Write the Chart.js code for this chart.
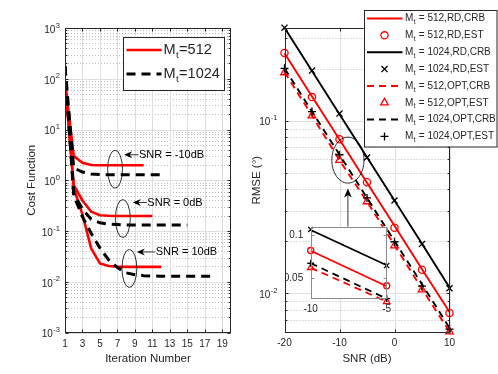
<!DOCTYPE html>
<html><head><meta charset="utf-8">
<script src="https://cdn.jsdelivr.net/npm/chart.js@4.4.1/dist/chart.umd.min.js"></script>
<style>
html,body{margin:0;padding:0;background:#fff;}
#wrap{position:relative;width:498px;height:374px;overflow:hidden;background:#fff;}
canvas{position:absolute;}
</style></head><body>
<div id="wrap">
<canvas id="left" width="249" height="374" style="left:0;top:0"></canvas>
<canvas id="right" width="249" height="374" style="left:249px;top:0"></canvas>
<canvas id="inset" width="110" height="100" style="left:285px;top:218px"></canvas>
</div>
<script>
// ================= DATA =================
// Left panel: cost function vs iteration number
const iterations = [1,2,3,4,5,6,7,8,9,10,11,12,13,14,15,16,17,18];
const cost512_snrM10  = [89, 3.0, 2.2, 2.0, 1.98, 1.97, 1.97, 1.97, 1.97, 1.97];
const cost512_snr0    = [89, 0.8, 0.4, 0.24, 0.205, 0.2, 0.198, 0.198, 0.198, 0.198, 0.198];
const cost512_snr10   = [89, 0.7, 0.21, 0.045, 0.023, 0.0205, 0.0198, 0.0196, 0.0196, 0.0196, 0.0196, 0.0196];
const cost1024_snrM10 = [175, 1.75, 1.45, 1.33, 1.29, 1.28, 1.28, 1.28, 1.28, 1.28, 1.28, 1.28];
const cost1024_snr0   = [175, 0.55, 0.27, 0.17, 0.145, 0.137, 0.134, 0.132, 0.132, 0.132, 0.132, 0.132, 0.132, 0.132, 0.132];
const cost1024_snr10  = [175, 0.5, 0.19, 0.09, 0.046, 0.027, 0.019, 0.015, 0.0138, 0.0132, 0.013, 0.0128, 0.0128, 0.0128, 0.0128, 0.0128, 0.0128, 0.0128];
const leftXTicks = [1,3,5,7,9,11,13,15,17,19];
const leftYTickExps = [-3,-2,-1,0,1,2,3];
const leftLegendLabels = ['=512', '=1024'];
// SNR annotations (iteration / cost coordinates)
const snrNoteTexts   = ['SNR = -10dB', 'SNR = 0dB', 'SNR = 10dB'];
const snrEllipseX    = [6.73, 7.62, 8.37];
const snrEllipseY    = [1.65, 0.176, 0.0183];
const snrArrowTailX  = [9.41, 10.37, 11.32];
const snrArrowTipX   = [7.77, 8.76, 9.22];
const snrArrowY      = [3.18, 0.364, 0.0386];

// Right panel: RMSE vs SNR
const snrDb = [-20, -15, -10, -5, 0, 5, 10];
const rmse512RdCrb   = [0.246, 0.138, 0.0778, 0.0437, 0.0246, 0.0138, 0.0078];
const rmse512RdEst   = [0.247, 0.137, 0.078, 0.044, 0.0240, 0.0137, 0.0077];
const rmse1024RdCrb  = [0.345, 0.194, 0.109, 0.0614, 0.0345, 0.0194, 0.0108];
const rmse1024RdEst  = [0.346, 0.195, 0.110, 0.0612, 0.0345, 0.0193, 0.0107];
const rmse512OptCrb  = [0.191, 0.107, 0.059, 0.0340, 0.0190, 0.0106, 0.0060];
const rmse512OptEst  = [0.190, 0.107, 0.059, 0.0340, 0.0189, 0.0105, 0.0060];
const rmse1024OptCrb = [0.201, 0.113, 0.0635, 0.0357, 0.0201, 0.0113, 0.0063];
const rmse1024OptEst = [0.201, 0.113, 0.0635, 0.0357, 0.0199, 0.0110, 0.0062];
const rightXTicks = [-20, -10, 0, 10];
const rightYTickExps = [-2, -1];
const rightLegendLabels = [' = 512,RD,CRB',' = 512,RD,EST',' = 1024,RD,CRB',' = 1024,RD,EST',' = 512,OPT,CRB',' = 512,OPT,EST',' = 1024,OPT,CRB',' = 1024,OPT,EST'];
const zoomEllipseCenter = {x: -8.47, y: 0.0591};
const zoomArrowTailY = 0.0243, zoomArrowTipY = 0.0405;
// Inset
const insetXTicks = [-10, -5];
const insetYTicks = [0.05, 0.1];
const insetYTickLabels = ['0.05', '0.1'];

// ================= STYLE =================
const FONT = '"Liberation Sans", Arial, Helvetica, sans-serif';
const AX = '#262626';
const GRID_MAJOR = '#dedede';
const GRID_MINOR = '#bdbdbd';
const RED = '#ff0000', BLACK = '#000000';

const pts = (xs, ys) => ys.map((y, i) => ({x: xs[i], y}));
const c = v => Math.round(v) + 0.5;

function logGrid(min, max) {
  const out = [];
  for (let e = Math.floor(Math.log10(min)); e <= Math.ceil(Math.log10(max)); e++) {
    for (let m = 1; m < 10; m++) {
      const v = m * Math.pow(10, e);
      if (v >= min * 0.9999 && v <= max * 1.0001) out.push({v, major: m === 1});
    }
  }
  return out;
}
function hline(ctx, x1, x2, y) { ctx.beginPath(); ctx.moveTo(x1, y); ctx.lineTo(x2, y); ctx.stroke(); }
function vline(ctx, x, y1, y2) { ctx.beginPath(); ctx.moveTo(x, y1); ctx.lineTo(x, y2); ctx.stroke(); }

function drawGrid(chart, xTicks) {
  const {ctx, chartArea: a, scales: {x, y}} = chart;
  ctx.save();
  ctx.lineWidth = 1;
  logGrid(y.min, y.max).forEach(({v, major}) => {
    const py = c(y.getPixelForValue(v));
    if (major) { ctx.setLineDash([]); ctx.strokeStyle = GRID_MAJOR; }
    else { ctx.setLineDash([1, 2]); ctx.strokeStyle = GRID_MINOR; }
    hline(ctx, a.left, a.right, py);
  });
  ctx.setLineDash([]); ctx.strokeStyle = GRID_MAJOR;
  xTicks.forEach(v => vline(ctx, c(x.getPixelForValue(v)), a.top, a.bottom));
  ctx.restore();
}

function drawFrame(chart, xTicks, color, logMinor) {
  const {ctx, chartArea: a, scales: {x, y}} = chart;
  ctx.save();
  ctx.strokeStyle = color; ctx.lineWidth = 1; ctx.setLineDash([]);
  const L = c(a.left), R = c(a.right) - 1, T = c(a.top), B = c(a.bottom) - 1;
  ctx.strokeRect(L, T, R - L, B - T);
  xTicks.forEach(v => { const px = c(x.getPixelForValue(v)); vline(ctx, px, B, B - 3); vline(ctx, px, T, T + 3); });
  if (logMinor) {
    logGrid(y.min, y.max).forEach(({v, major}) => {
      const py = c(y.getPixelForValue(v)); const len = major ? 3 : 1.8;
      hline(ctx, L, L + len, py); hline(ctx, R, R - len, py);
    });
  }
  ctx.restore();
}

function drawPow(ctx, exp, xRight, yc) {
  ctx.save();
  ctx.fillStyle = AX; ctx.textBaseline = 'middle'; ctx.textAlign = 'left';
  ctx.font = '10px ' + FONT; const wb = ctx.measureText('10').width;
  ctx.font = '7.5px ' + FONT; const es = String(exp); const we = ctx.measureText(es).width;
  const x0 = xRight - wb - we - 0.5;
  ctx.font = '10px ' + FONT; ctx.fillText('10', x0, yc + 2);
  ctx.font = '7.5px ' + FONT; ctx.fillText(es, x0 + wb + 0.5, yc - 2.5);
  ctx.restore();
}
function drawXLabels(chart, ticks, labels, dy) {
  const {ctx, chartArea: a, scales: {x}} = chart;
  ctx.save(); ctx.fillStyle = AX; ctx.font = '10px ' + FONT; ctx.textAlign = 'center'; ctx.textBaseline = 'middle';
  ticks.forEach((v, i) => ctx.fillText(labels ? labels[i] : String(v), x.getPixelForValue(v), a.bottom + dy));
  ctx.restore();
}
function drawTitles(chart, xt, yt, yx) {
  const {ctx, chartArea: a} = chart;
  ctx.save(); ctx.fillStyle = AX; ctx.font = '11.5px ' + FONT; ctx.textAlign = 'center'; ctx.textBaseline = 'middle';
  ctx.fillText(xt, (a.left + a.right) / 2, 359);
  ctx.translate(yx, (a.top + a.bottom) / 2); ctx.rotate(-Math.PI / 2); ctx.fillText(yt, 0, 0);
  ctx.restore();
}
function arrowHead(ctx, tx, ty, ux, uy, len, half, notch) {
  const bx = tx - ux * len, by = ty - uy * len, px = -uy, py = ux;
  ctx.beginPath(); ctx.moveTo(tx, ty);
  ctx.lineTo(bx + px * half, by + py * half);
  ctx.lineTo(tx - ux * (len - notch), ty - uy * (len - notch));
  ctx.lineTo(bx - px * half, by - py * half);
  ctx.closePath(); ctx.fill();
}
function drawMarker(ctx, style, x, y, r) {
  ctx.beginPath();
  if (style === 'circle') { ctx.arc(x, y, r, 0, Math.PI * 2); }
  else if (style === 'triangle') {
    for (let k = 0; k < 3; k++) { const ang = k * 2 * Math.PI / 3; const X = x + Math.sin(ang) * r, Y = y - Math.cos(ang) * r; k ? ctx.lineTo(X, Y) : ctx.moveTo(X, Y); }
    ctx.closePath();
  } else if (style === 'cross') { ctx.moveTo(x - r, y); ctx.lineTo(x + r, y); ctx.moveTo(x, y - r); ctx.lineTo(x, y + r); }
  else if (style === 'crossRot') { const d = r * 0.7071; ctx.moveTo(x - d, y - d); ctx.lineTo(x + d, y + d); ctx.moveTo(x - d, y + d); ctx.lineTo(x + d, y - d); }
  ctx.stroke();
}
function mtText(ctx, x, y, size, rest) {
  ctx.textAlign = 'left'; ctx.textBaseline = 'middle';
  ctx.font = size + 'px ' + FONT; ctx.fillText('M', x, y);
  const wm = ctx.measureText('M').width;
  const ss = size * 0.68;
  ctx.font = ss + 'px ' + FONT; ctx.fillText('t', x + wm + 0.3, y + size * 0.38);
  const wt = ctx.measureText('t').width;
  ctx.font = size + 'px ' + FONT; ctx.fillText(rest, x + wm + wt + 0.8, y);
}

// ================= LEFT CHART =================
const leftPlugin = {
  id: 'leftDecor',
  beforeDatasetsDraw(chart) { drawGrid(chart, leftXTicks); },
  afterDatasetsDraw(chart) {
    const {ctx, chartArea: a, scales: {x, y}} = chart;
    drawFrame(chart, leftXTicks, AX, true);
    drawXLabels(chart, leftXTicks, null, 11.5);
    leftYTickExps.forEach(e => drawPow(ctx, e, a.left - 5, y.getPixelForValue(Math.pow(10, e))));
    drawTitles(chart, 'Iteration Number', 'Cost Function', 32);
    // annotations
    ctx.save();
    ctx.strokeStyle = BLACK; ctx.fillStyle = BLACK; ctx.lineWidth = 0.8;
    const rx = x.getPixelForValue(1.85) - x.getPixelForValue(1);
    snrNoteTexts.forEach((t, i) => {
      const cx = x.getPixelForValue(snrEllipseX[i]), cy = y.getPixelForValue(snrEllipseY[i]);
      const ry = (y.getPixelForValue(snrEllipseY[i] / 2.37) - y.getPixelForValue(snrEllipseY[i] * 2.37)) / 2;
      ctx.beginPath(); ctx.ellipse(cx, cy, rx, ry, 0, 0, Math.PI * 2); ctx.stroke();
      const ay = y.getPixelForValue(snrArrowY[i]);
      const tx = x.getPixelForValue(snrArrowTailX[i]), hx = x.getPixelForValue(snrArrowTipX[i]);
      ctx.lineWidth = 0.8; hline(ctx, tx, hx + 4, ay);
      arrowHead(ctx, hx, ay, -1, 0, 8, 3.5, 2.5);
      ctx.font = '11px ' + FONT; ctx.textAlign = 'left'; ctx.textBaseline = 'middle';
      ctx.fillText(t, tx + 0.5, ay);
    });
    ctx.restore();
    // legend
    ctx.save();
    const lx = a.right - 108.5, ly = a.top + 8.5, lw = 101, lh = 53;
    ctx.fillStyle = '#fff'; ctx.fillRect(lx, ly, lw, lh);
    ctx.strokeStyle = AX; ctx.lineWidth = 1; ctx.strokeRect(c(lx), c(ly), lw, lh);
    [0, 1].forEach(i => {
      const ds = chart.data.datasets[i === 0 ? 0 : 3];
      const yy = ly + 13.5 + i * 24;
      ctx.strokeStyle = ds.borderColor; ctx.lineWidth = ds.borderWidth; ctx.setLineDash(ds.borderDash || []);
      hline(ctx, lx + 4, lx + 39, yy);
      ctx.setLineDash([]);
      ctx.fillStyle = AX; mtText(ctx, lx + 41, yy, 14.5, leftLegendLabels[i]);
    });
    ctx.restore();
  }
};

function lineDs(xs, ys, color, dash, w) {
  return {data: pts(xs, ys), borderColor: color, borderWidth: w, borderDash: dash, pointRadius: 0, showLine: true, fill: false, tension: 0};
}
const leftSets = [
  lineDs(iterations, cost512_snrM10, RED, [], 2.6),
  lineDs(iterations, cost512_snr0, RED, [], 2.6),
  lineDs(iterations, cost512_snr10, RED, [], 2.6),
  lineDs(iterations, cost1024_snrM10, BLACK, [9, 6], 3),
  lineDs(iterations, cost1024_snr0, BLACK, [9, 6], 3),
  lineDs(iterations, cost1024_snr10, BLACK, [9, 6], 3)
];
leftSets.forEach((d, i) => d.order = 100 - i);

new Chart(document.getElementById('left'), {
  type: 'line',
  data: {datasets: leftSets},
  options: {
    responsive: false, animation: false, devicePixelRatio: 1,
    layout: {padding: {left: 65, top: 28, right: 18, bottom: 41.5}},
    plugins: {legend: {display: false}, tooltip: {enabled: false}},
    scales: {
      x: {type: 'linear', min: 1, max: 20, display: false},
      y: {type: 'logarithmic', min: 1e-3, max: 1e3, display: false}
    }
  },
  plugins: [leftPlugin]
});

// ================= RIGHT CHART =================
function rmseSets(filterFn, small) {
  const f = ys => pts(snrDb, ys).filter(p => filterFn(p.x));
  const lw = small ? 1.8 : 1.9;
  const mk = (ys, color, style, r) => ({data: f(ys), borderColor: color, backgroundColor: 'rgba(0,0,0,0)', pointBackgroundColor: 'rgba(0,0,0,0)', pointBorderColor: color, pointStyle: style, pointRadius: r, pointBorderWidth: 1.3, showLine: false, clip: false});
  const ln = (ys, color, dash) => ({data: f(ys), borderColor: color, borderWidth: lw, borderDash: dash, pointRadius: 0, showLine: true, fill: false, tension: 0, clip: false});
  const s = small ? 0.85 : 1;
  const sets = [
    ln(rmse512RdCrb, RED, []),
    mk(rmse512RdEst, RED, 'circle', 3.6 * s),
    ln(rmse1024RdCrb, BLACK, []),
    mk(rmse1024RdEst, BLACK, 'crossRot', 4.3 * s),
    ln(rmse512OptCrb, RED, [7, 5]),
    mk(rmse512OptEst, RED, 'triangle', 4.4 * s),
    ln(rmse1024OptCrb, BLACK, [7, 5]),
    mk(rmse1024OptEst, BLACK, 'cross', 4 * s)
  ];
  sets.forEach((d, i) => d.order = 100 - i);
  return sets;
}

const rightPlugin = {
  id: 'rightDecor',
  beforeDatasetsDraw(chart) { drawGrid(chart, rightXTicks); },
  afterDatasetsDraw(chart) {
    const {ctx, chartArea: a, scales: {x, y}} = chart;
    drawFrame(chart, rightXTicks, AX, true);
    drawXLabels(chart, rightXTicks, null, 11);
    rightYTickExps.forEach(e => drawPow(ctx, e, a.left - 7, y.getPixelForValue(Math.pow(10, e))));
    drawTitles(chart, 'SNR (dB)', 'RMSE (°)', 8);
    // zoom ellipse + arrow
    ctx.save();
    ctx.strokeStyle = BLACK; ctx.fillStyle = BLACK; ctx.lineWidth = 0.8;
    const cx = x.getPixelForValue(zoomEllipseCenter.x), cy = y.getPixelForValue(zoomEllipseCenter.y);
    const rx = x.getPixelForValue(zoomEllipseCenter.x + 2.93) - cx;
    const ry = (y.getPixelForValue(zoomEllipseCenter.y / 1.36) - y.getPixelForValue(zoomEllipseCenter.y * 1.36)) / 2;
    ctx.beginPath(); ctx.ellipse(cx, cy, rx, ry, 0, 0, Math.PI * 2); ctx.stroke();
    const ty = y.getPixelForValue(zoomArrowTailY), hy = y.getPixelForValue(zoomArrowTipY);
    vline(ctx, cx, ty, hy + 4);
    arrowHead(ctx, cx, hy, 0, -1, 9, 3.8, 2.5);
    ctx.restore();
  },
  afterDraw(chart) {
    const {ctx} = chart;
    ctx.save();
    const lx = 114.5, ly = 10, lw = 133.5, lh = 136.5;
    ctx.fillStyle = '#fff'; ctx.fillRect(lx, ly, lw, lh);
    ctx.strokeStyle = AX; ctx.lineWidth = 1; ctx.strokeRect(c(lx), c(ly), lw - 1, lh);
    chart.data.datasets.forEach((ds, i) => {
      const yy = ly + 8.5 + i * 16.85;
      if (ds.showLine) {
        ctx.strokeStyle = ds.borderColor; ctx.lineWidth = 2; ctx.setLineDash(ds.borderDash || []);
        hline(ctx, lx + 3.5, lx + 39, yy); ctx.setLineDash([]);
      } else {
        ctx.strokeStyle = ds.pointBorderColor; ctx.lineWidth = 1.3;
        drawMarker(ctx, ds.pointStyle, lx + 21, yy, ds.pointRadius);
      }
      ctx.fillStyle = AX; mtText(ctx, lx + 41.5, yy, 10, rightLegendLabels[i]);
    });
    ctx.restore();
  }
};

new Chart(document.getElementById('right'), {
  type: 'line',
  data: {datasets: rmseSets(() => true, false)},
  options: {
    responsive: false, animation: false, devicePixelRatio: 1,
    layout: {padding: {left: 35.5, top: 28, right: 48.5, bottom: 41.5}},
    plugins: {legend: {display: false}, tooltip: {enabled: false}},
    scales: {
      x: {type: 'linear', min: -20, max: 10, display: false},
      y: {type: 'logarithmic', min: 0.00593, max: 0.3443, display: false}
    }
  },
  plugins: [rightPlugin]
});

// ================= INSET =================
const insetPlugin = {
  id: 'insetDecor',
  beforeDatasetsDraw(chart) {
    const {ctx, chartArea: a} = chart;
    ctx.save(); ctx.fillStyle = '#fff'; ctx.fillRect(a.left, a.top, a.right - a.left, a.bottom - a.top); ctx.restore();
  },
  afterDatasetsDraw(chart) {
    const {ctx, chartArea: a, scales: {x, y}} = chart;
    drawFrame(chart, insetXTicks, '#8a8a8a', false);
    ctx.save(); ctx.strokeStyle = '#8a8a8a'; ctx.lineWidth = 1;
    insetYTicks.forEach(v => { const py = c(y.getPixelForValue(v)); hline(ctx, c(a.left), c(a.left) + 3, py); hline(ctx, c(a.right) - 1, c(a.right) - 4, py); });
    ctx.fillStyle = AX; ctx.font = '10px ' + FONT; ctx.textAlign = 'right'; ctx.textBaseline = 'middle';
    insetYTicks.forEach((v, i) => ctx.fillText(insetYTickLabels[i], a.left - 7.5, y.getPixelForValue(v)));
    ctx.restore();
    drawXLabels(chart, insetXTicks, null, 10.5);
  }
};
new Chart(document.getElementById('inset'), {
  type: 'line',
  data: {datasets: rmseSets(v => v >= -10 && v <= -5, true)},
  options: {
    responsive: false, animation: false, devicePixelRatio: 1,
    layout: {padding: {left: 25.7, top: 8.7, right: 8.3, bottom: 19}},
    plugins: {legend: {display: false}, tooltip: {enabled: false}},
    scales: {
      x: {type: 'linear', min: -10, max: -5, display: false},
      y: {type: 'logarithmic', min: 0.0355, max: 0.115, display: false}
    }
  },
  plugins: [insetPlugin]
});
</script>
</body></html>
